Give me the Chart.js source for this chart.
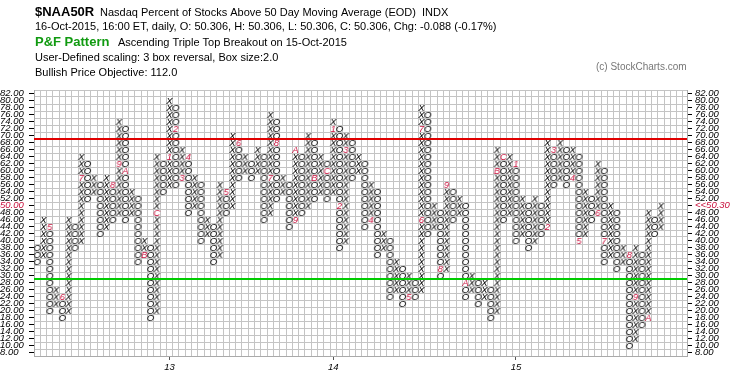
<!DOCTYPE html>
<html>
<head>
<meta charset="utf-8">
<title>$NAA50R P&amp;F</title>
<script src="https://cdn.jsdelivr.net/npm/chart.js@4.4.1/dist/chart.umd.min.js"></script>
<style>
  html, body { margin: 0; padding: 0; background: #fff; }
  #box { width: 745px; height: 377px; }
</style>
</head>
<body>
<div id="box"><canvas id="pfchart" width="745" height="377"></canvas></div>
<script>
// point & figure columns, box size 2.0, 3 box reversal
const boxSize = 2;
const colType = ['O','X','O','X','O','X','O','X','O','X',
                 'O','X','O','X','O','X','O','X','O','X',
                 'O','X','O','X','O','X','O','X','O','X',
                 'O','X','O','X','O','X','O','X','O','X',
                 'O','X','O','X','O','X','O','X','O','X',
                 'O','X','O','X','O','X','O','X','O','X',
                 'O','X','O','X','O','X','O','X','O','X',
                 'O','X','O','X','O','X','O','X','O','X',
                 'O','X','O','X','O','X','O','X','O','X',
                 'O','X','O','X','O','X','O','X','O','X'];
const colLow  = [34,36,20,22,18,20,38,40,52,54, 42,44,46,48,46,48,34,36,18,20,
                 54,56,56,58,48,50,40,42,34,36, 48,50,58,60,58,60,46,48,52,54,
                 44,46,48,50,52,54,52,54,38,40, 58,60,44,46,36,38,24,26,22,24,
                 24,26,42,44,30,32,46,48,24,26, 22,24,18,20,46,48,40,42,38,40,
                 42,44,56,58,56,58,40,42,46,48, 34,36,32,34,10,12,16,18,42,44];
const colHigh = [38,46,44,26,24,46,44,64,62,58, 56,58,56,74,72,54,52,40,38,64,
                 62,80,78,66,64,58,56,46,44,56, 54,70,68,64,62,66,64,76,74,58,
                 56,66,64,70,68,64,62,74,72,70, 68,64,62,56,54,42,40,34,32,30,
                 28,78,76,50,48,56,54,52,50,30, 28,28,26,66,64,64,62,52,50,52,
                 50,68,66,68,66,66,64,54,52,62, 60,50,48,38,36,38,36,48,46,50];

// month marks (1-9, A=Oct, B=Nov, C=Dec) sitting in a box
const monthCol = [2,4,7,12,13,14,17,19,21,22,23,24,30,32,37,38,41,41,44,46,47,48,49,
                  53,59,61,61,64,65,68,73,74,76,81,82,85,86,89,90,94,95,97];
const monthVal = [44,24,58,56,62,60,36,48,64,72,58,64,54,68,58,68,46,66,58,60,72,50,66,
                  46,24,46,72,32,56,28,60,64,62,44,66,58,40,48,40,36,24,18];
const monthTxt = ['5','6','7','8','9','A','B','C','1','2','3','4','5','6','7','8','9','A','B','C','1','2','3',
                  '4','5','6','7','8','9','A','B','C','1','2','3','4','5','6','7','8','9','A'];

// year labels under the columns where January starts
const yearCol = [21, 47, 76];
const yearTxt = ['13', '14', '15'];

const lastClose = 50.306;
const redLine = 69;
const greenLine = 29;

const xMax = 103.15;
const gridGray = '#c4c4c4';
const markRed = '#c8103c';
const fam = '"Liberation Sans", Arial, sans-serif';

// small glyph canvases used as point styles
const glyphs = {};
function glyph(ch, color) {
  const key = ch + color;
  if (glyphs[key]) return glyphs[key];
  const c = document.createElement('canvas');
  c.width = 9; c.height = 9;
  const g = c.getContext('2d');
  g.font = 'italic 9.5px ' + fam;
  g.fillStyle = color;
  g.textAlign = 'center';
  g.textBaseline = 'alphabetic';
  g.fillText(ch, 4.5, 8);
  glyphs[key] = c;
  return c;
}

const xPts = [], oPts = [], mPts = [];
for (let i = 0; i < monthCol.length; i++) mPts.push({x: monthCol[i], y: monthVal[i]});
for (let c = 0; c < colType.length; c++) {
  for (let v = colLow[c]; v <= colHigh[c]; v += boxSize) {
    let taken = false;
    for (let i = 0; i < monthCol.length; i++) {
      if (monthCol[i] === c && monthVal[i] === v) taken = true;
    }
    if (taken) continue;
    if (colType[c] === 'X') xPts.push({x: c, y: v});
    else oPts.push({x: c, y: v});
  }
}

const header = {
  id: 'header',
  afterDraw(chart) {
    const c = chart.ctx;
    c.save();
    c.textBaseline = 'alphabetic';
    c.textAlign = 'left';
    c.fillStyle = '#000';
    c.font = 'bold 13px ' + fam;
    c.fillText('$NAA50R', 35, 16);
    c.font = '11px ' + fam;
    c.fillText('Nasdaq Percent of Stocks Above 50 Day Moving Average (EOD)  INDX', 100, 16);
    c.fillText('16-Oct-2015, 16:00 ET, daily, O: 50.306, H: 50.306, L: 50.306, C: 50.306, Chg: -0.088 (-0.17%)', 35, 30);
    c.fillStyle = '#109a10';
    c.font = 'bold 13px ' + fam;
    c.fillText('P&F Pattern', 35, 46);
    c.fillStyle = '#000';
    c.font = '11px ' + fam;
    c.fillText('Ascending Triple Top Breakout on 15-Oct-2015', 118, 46);
    c.fillText('User-Defined scaling: 3 box reversal, Box size:2.0', 35, 61);
    c.fillText('Bullish Price Objective: 112.0', 35, 76);
    c.fillStyle = '#777';
    c.font = '10px ' + fam;
    c.fillText('(c) StockCharts.com', 596, 70);
    c.restore();
  }
};

const yTicks = s => {
  s.ticks = [];
  for (let v = 7; v <= 83; v++) s.ticks.push({value: v});
};
const tickFont = {family: fam, size: 9.5, style: 'italic'};
const lastLbl = '<<' + (Math.floor(lastClose * 100) / 100).toFixed(2);

new Chart(document.getElementById('pfchart'), {
  type: 'scatter',
  data: {
    datasets: [
      {label: 'red', type: 'line', data: [{x: -0.5, y: redLine}, {x: xMax, y: redLine}],
       borderColor: '#e00000', borderWidth: 2, pointRadius: 0},
      {label: 'green', type: 'line', data: [{x: -0.5, y: greenLine}, {x: xMax, y: greenLine}],
       borderColor: '#00cc00', borderWidth: 2, pointRadius: 0},
      {label: 'X', data: xPts, pointStyle: glyph('X', '#000'), pointRadius: 3},
      {label: 'O', data: oPts, pointStyle: glyph('O', '#000'), pointRadius: 3},
      {label: 'month', data: mPts, pointRadius: 3,
       pointStyle: ctx => glyph(monthTxt[ctx.dataIndex] || '1', markRed)}
    ]
  },
  options: {
    responsive: false,
    animation: false,
    events: [],
    layout: {padding: {top: 90, left: 0, right: 0, bottom: 0}},
    plugins: {legend: {display: false}, tooltip: {enabled: false}},
    scales: {
      x: {
        type: 'linear', min: -0.5, max: xMax,
        afterBuildTicks: s => {
          const t = [];
          for (let b = -0.5; b <= xMax; b += 1) t.push({value: b});
          yearCol.forEach(c => t.push({value: c}));
          t.sort((a, b) => a.value - b.value);
          s.ticks = t;
        },
        afterFit: s => { s.height = 21; },
        grid: {
          color: c => Number.isInteger(c.tick.value) ? 'rgba(0,0,0,0)' : gridGray,
          tickColor: c => Number.isInteger(c.tick.value) ? '#555' : 'rgba(0,0,0,0)',
          tickLength: 4
        },
        border: {color: '#aaa'},
        ticks: {
          autoSkip: false, maxRotation: 0, padding: 2, color: '#000', font: tickFont,
          callback: v => { const i = yearCol.indexOf(v); return i >= 0 ? yearTxt[i] : ''; }
        }
      },
      y: {
        position: 'left', min: 7, max: 83,
        afterBuildTicks: yTicks,
        afterFit: s => { s.width = 34; },
        grid: {
          color: c => c.tick.value % 2 ? gridGray : 'rgba(0,0,0,0)',
          tickColor: c => c.tick.value % 2 ? 'rgba(0,0,0,0)' : '#000',
          tickLength: 5
        },
        border: {color: '#aaa'},
        ticks: {
          autoSkip: false, crossAlign: 'far', padding: 2, font: tickFont,
          color: c => c.tick.value === 50 ? markRed : '#000',
          callback: v => v % 2 ? '' : v.toFixed(2)
        }
      },
      y2: {
        position: 'right', min: 7, max: 83,
        afterBuildTicks: yTicks,
        afterFit: s => { s.width = 58; },
        grid: {
          drawOnChartArea: false,
          tickColor: c => c.tick.value % 2 ? 'rgba(0,0,0,0)' : '#000',
          tickLength: 5
        },
        border: {color: '#aaa'},
        ticks: {
          autoSkip: false, padding: 3, font: tickFont,
          color: c => c.tick.value === 50 ? markRed : '#000',
          callback: v => v % 2 ? '' : (v === 50 ? lastLbl : v.toFixed(2))
        }
      }
    }
  },
  plugins: [header]
});
</script>
</body>
</html>
